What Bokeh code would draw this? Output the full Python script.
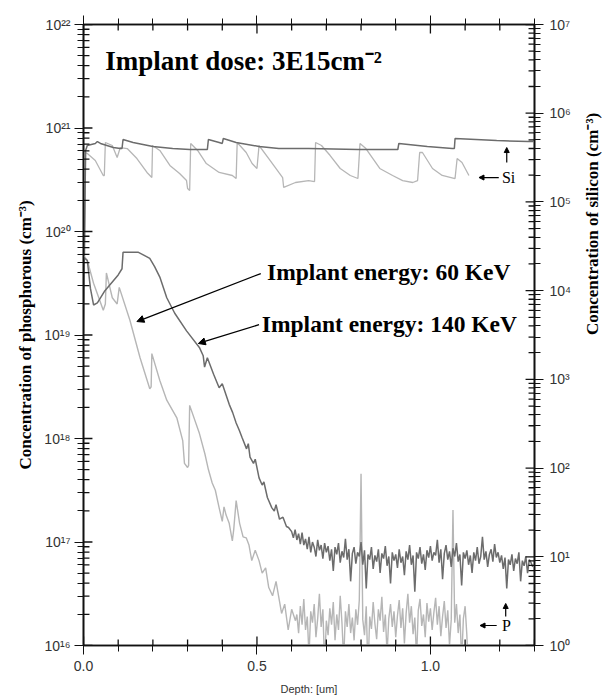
import math
import numpy as np
from bokeh.plotting import figure
from bokeh.models import (Range1d, LogScale, LogAxis, LinearAxis, FixedTicker,
                          CustomJSTickFormatter, Label, Arrow, NormalHead)
from bokeh.embed import file_html
from bokeh.resources import INLINE

# ---------------- data ----------------
# depth in um; concentrations given as log10 values
# Phosphorus, 140 keV implant (dark trace), left axis
p140_head_depth = [0.000, 0.011, 0.020, 0.029, 0.040, 0.060, 0.080, 0.100, 0.111, 0.114,
                   0.130, 0.157, 0.175, 0.191, 0.205, 0.220, 0.240, 0.263, 0.297, 0.334,
                   0.345, 0.349, 0.357, 0.375, 0.391, 0.400, 0.420, 0.430, 0.440, 0.449,
                   0.457, 0.470, 0.475, 0.480, 0.490, 0.495, 0.506, 0.515, 0.520, 0.530,
                   0.543, 0.550, 0.555, 0.565, 0.575, 0.585, 0.591]
p140_head_log = [19.75, 19.72, 19.45, 19.29, 19.31, 19.42, 19.50, 19.58, 19.64, 19.80,
                 19.80, 19.80, 19.77, 19.74, 19.66, 19.56, 19.36, 19.21, 19.04, 18.88,
                 18.80, 18.69, 18.78, 18.62, 18.49, 18.53, 18.33, 18.25, 18.15, 18.08,
                 18.01, 17.90, 17.95, 17.82, 17.76, 17.80, 17.62, 17.55, 17.58, 17.43,
                 17.33, 17.30, 17.36, 17.22, 17.24, 17.15, 17.14]
p140_tail_start = 0.600
p140_tail_step = 0.005
p140_tail_log = [
    17.10, 17.04, 17.12, 17.02, 17.08, 16.98, 17.09, 16.97, 17.03, 16.93,
    17.05, 16.90, 17.00, 16.95, 16.86, 17.02, 16.92, 16.97, 16.84, 16.99,
    16.90, 16.96, 16.82, 16.93, 16.72, 16.95, 16.88, 16.99, 16.80, 16.91,
    16.85, 17.03, 16.83, 16.93, 16.62, 16.89, 16.95, 16.79, 16.90, 16.86,
    17.00, 16.78, 16.92, 16.55, 16.88, 16.83, 16.95, 16.74, 16.87, 16.81,
    16.93, 16.70, 16.89, 16.84, 16.96, 16.77, 16.86, 16.60, 16.90, 16.82,
    16.88, 16.75, 16.93, 16.80, 16.86, 16.68, 16.91, 16.83, 16.97, 16.78,
    16.87, 16.52, 16.90, 16.84, 16.95, 16.79, 16.88, 16.73, 16.92, 16.85,
    16.96, 16.82, 16.90, 16.87, 17.02, 16.80, 16.93, 16.64, 16.89, 16.97,
    16.83, 16.91, 16.76, 16.94, 16.86, 16.99, 16.81, 16.88, 16.58, 16.90,
    16.84, 16.92, 16.78, 16.87, 16.70, 16.90, 16.82, 16.95, 16.79, 16.86,
    17.05, 16.83, 16.91, 16.76, 16.88, 16.93, 16.81, 16.98, 16.85, 16.90,
    16.80, 16.87, 16.74, 16.85, 16.55, 16.83, 16.78, 16.88, 16.72, 16.84,
    16.79, 16.90, 16.62, 16.82, 16.77, 16.86, 16.70, 16.83, 16.80, 16.76]

# Phosphorus, 60 keV implant (light trace), left axis
p60_head_depth = [0.000, 0.011, 0.029, 0.057, 0.063, 0.066, 0.083, 0.097, 0.103, 0.134,
                  0.163, 0.191, 0.195, 0.197, 0.220, 0.240, 0.269, 0.286, 0.291, 0.300,
                  0.303, 0.306, 0.334, 0.350, 0.360, 0.371, 0.380, 0.391, 0.400, 0.405,
                  0.411, 0.420, 0.429, 0.433, 0.440, 0.450, 0.460, 0.469, 0.477, 0.485,
                  0.495, 0.506, 0.515, 0.525, 0.534, 0.545, 0.555, 0.571, 0.580, 0.590,
                  0.600, 0.611]
p60_head_log = [19.77, 19.72, 19.50, 19.24, 19.30, 19.60, 19.36, 19.30, 19.46, 19.14,
                18.78, 18.48, 18.50, 18.82, 18.56, 18.37, 18.20, 17.98, 17.76, 17.72,
                17.74, 18.32, 18.05, 17.85, 17.70, 17.57, 17.50, 17.33, 17.20, 17.34,
                17.26, 17.18, 17.01, 17.12, 17.40, 17.18, 17.05, 17.04, 16.97, 16.82,
                16.92, 16.82, 16.70, 16.75, 16.56, 16.48, 16.62, 16.31, 16.40, 16.15,
                16.35, 16.24]
p60_tail_start = 0.615
p60_tail_step = 0.005
p60_tail_log = [
    16.30, 16.12, 16.38, 16.20, 16.45, 16.15, 16.28, 15.90, 16.33, 16.22,
    16.40, 16.08, 16.26, 16.50, 16.18, 16.35, 15.80, 16.24,
    16.10, 16.36, 16.20, 16.42, 16.05, 16.30, 16.15, 16.48, 16.22, 15.85,
    16.33, 16.18, 16.40, 16.12, 16.27, 16.05, 16.35, 16.20, 16.44, 17.66,
    16.25, 16.10, 16.38, 15.75, 16.28, 16.16, 16.42, 16.21, 16.06, 16.35,
    16.24, 16.47, 16.13, 16.30, 15.92, 16.26, 16.40, 16.18, 16.33, 16.08,
    16.29, 16.44, 16.17, 16.36, 16.02, 16.31, 16.50, 16.22, 16.38, 16.11,
    16.27, 15.88, 16.34, 16.45, 16.19, 16.30, 16.08, 16.41, 16.23, 16.36,
    16.15, 16.32, 16.46, 16.20, 16.38, 16.09, 16.28, 16.43, 16.17, 16.34,
    16.00, 16.25, 17.31, 16.22, 16.40, 16.12, 16.30, 15.85, 16.26, 16.38,
    16.10, 15.70]

# Silicon, 140 keV sample (dark trace), right axis
si140_depth = [0.000, 0.006, 0.011, 0.034, 0.040, 0.049, 0.086, 0.106, 0.111, 0.114,
               0.143, 0.200, 0.257, 0.306, 0.354, 0.357, 0.360, 0.391, 0.400, 0.403,
               0.440, 0.506, 0.563, 0.649, 0.791, 0.906, 0.909, 0.991, 1.063, 1.069,
               1.071, 1.191, 1.283, 1.297]
si140_log = [3.52, 5.58, 5.636, 5.659, 5.681, 5.659, 5.613, 5.602, 5.602, 5.704,
             5.670, 5.625, 5.602, 5.591, 5.591, 5.591, 5.704, 5.670, 5.659, 5.715,
             5.670, 5.625, 5.602, 5.602, 5.591, 5.591, 5.659, 5.625, 5.602, 5.602,
             5.715, 5.692, 5.681, 5.681]

# Silicon, 60 keV sample (light trace), right axis
si60_depth = [0.000, 0.006, 0.011, 0.034, 0.057, 0.060, 0.063, 0.083, 0.097, 0.106,
              0.126, 0.154, 0.183, 0.197, 0.199, 0.220, 0.249, 0.277, 0.297, 0.300,
              0.306, 0.309, 0.329, 0.354, 0.391, 0.429, 0.440, 0.443, 0.469, 0.486,
              0.500, 0.506, 0.534, 0.563, 0.574, 0.577, 0.611, 0.649, 0.666, 0.669,
              0.686, 0.711, 0.740, 0.769, 0.791, 0.797, 0.814, 0.854, 0.891, 0.920,
              0.949, 0.963, 0.969, 0.977, 1.006, 1.034, 1.071, 1.077, 1.091, 1.111]
si60_log = [3.52, 5.557, 5.546, 5.467, 5.298, 5.298, 5.670, 5.636, 5.501, 5.613,
            5.602, 5.489, 5.332, 5.275, 5.636, 5.580, 5.411, 5.320, 5.241, 5.151,
            5.129, 5.659, 5.580, 5.433, 5.332, 5.298, 5.264, 5.670, 5.557, 5.433,
            5.377, 5.636, 5.489, 5.332, 5.275, 5.163, 5.219, 5.241, 5.230, 5.670,
            5.636, 5.523, 5.377, 5.298, 5.264, 5.659, 5.602, 5.377, 5.298, 5.241,
            5.219, 5.241, 5.557, 5.557, 5.377, 5.298, 5.264, 5.489, 5.444, 5.298]

x_major_ticks = [0.0, 0.5, 1.0]
x_minor_ticks = [0.0, 0.1, 0.2, 0.3, 0.4, 0.5, 0.6, 0.7, 0.8, 0.9, 1.0, 1.1, 1.2, 1.3]
p_decades = [16, 17, 18, 19, 20, 21, 22]
si_decades = [0, 1, 2, 3, 4, 5, 6, 7]

title_text = "Implant dose: 3E15cm\u207b\u00b2"
label_60 = "Implant energy: 60 KeV"
label_140 = "Implant energy: 140 KeV"
y_left_label = "Concentration of phosphorous (cm\u207b\u00b3)"
y_right_label = "Concentration of silicon (cm\u207b\u00b3)"
x_label = "Depth: [um]"

# ---------------- build ----------------
p140_depth = p140_head_depth + list(np.round(p140_tail_start + p140_tail_step * np.arange(len(p140_tail_log)), 3))
p140_conc = [10 ** v for v in p140_head_log + p140_tail_log]
p60_depth = p60_head_depth + list(np.round(p60_tail_start + p60_tail_step * np.arange(len(p60_tail_log)), 3))
p60_conc = [10 ** v for v in p60_head_log + p60_tail_log]
si140_conc = [10 ** v for v in si140_log]
si60_conc = [10 ** v for v in si60_log]

DARK = "#6c6c6c"
LIGHT = "#b6b6b6"
AXC = "#111111"
SERIF = "Liberation Serif"
SANS = "Liberation Sans"

W, H = 614, 700
BL, BR, BT, BB = 83, 77, 24, 55
X0, X1 = 0.0, 1.3

p = figure(width=W, height=H, x_range=Range1d(X0, X1),
           y_range=Range1d(10 ** p_decades[0], 10 ** p_decades[-1]),
           y_axis_type="log", output_backend="svg", toolbar_location=None,
           min_border_left=BL, min_border_right=BR, min_border_top=BT, min_border_bottom=BB)
p.grid.visible = False
p.outline_line_color = AXC
p.outline_line_width = 1.6
p.extra_y_ranges = {"si": Range1d(10 ** si_decades[0], 10 ** si_decades[-1])}
p.extra_y_scales = {"si": LogScale()}

sup_fmt = CustomJSTickFormatter(code="""
const sup = {'0':'\u2070','1':'\u00b9','2':'\u00b2','3':'\u00b3','4':'\u2074','5':'\u2075',
             '6':'\u2076','7':'\u2077','8':'\u2078','9':'\u2079','-':'\u207b'};
const e = Math.round(Math.log10(tick));
return '10' + String(e).split('').map(c => sup[c]).join('');
""")
blank_fmt = CustomJSTickFormatter(code="return '';")
one_dec_fmt = CustomJSTickFormatter(code="return tick.toFixed(1);")

MAJ, MIN = 9, 6


def style_axis(ax):
    ax.axis_line_color = AXC
    ax.axis_line_width = 1.6
    ax.major_tick_line_color = AXC
    ax.minor_tick_line_color = AXC
    ax.major_tick_in = 0
    ax.minor_tick_in = 0
    ax.major_tick_out = MAJ
    ax.minor_tick_out = MIN
    ax.major_label_text_font = SANS
    ax.major_label_text_font_size = "14px"
    ax.major_label_text_color = "#333333"
    ax.axis_label_text_color = "black"


left_major = [10 ** d for d in p_decades]
left_minor = [m * 10 ** d for d in p_decades[:-1] for m in range(2, 10)]
right_major = [10 ** d for d in si_decades]
right_minor = [m * 10 ** d for d in si_decades[:-1] for m in range(2, 10)]

yl = p.yaxis[0]
style_axis(yl)
yl.ticker = FixedTicker(ticks=left_major, minor_ticks=left_minor)
yl.formatter = sup_fmt
yl.major_label_standoff = 4
yl.axis_label = y_left_label
yl.axis_label_text_font = SERIF
yl.axis_label_text_font_style = "bold"
yl.axis_label_text_font_size = "17px"
yl.axis_label_standoff = 6

x_ticker = FixedTicker(ticks=x_major_ticks, minor_ticks=x_minor_ticks)
xb = p.xaxis[0]
style_axis(xb)
xb.ticker = x_ticker
xb.formatter = one_dec_fmt
xb.major_label_standoff = 6
xb.axis_label = x_label
xb.axis_label_text_font = SANS
xb.axis_label_text_font_size = "11px"
xb.axis_label_text_font_style = "normal"
xb.axis_label_text_color = "#333333"
xb.axis_label_standoff = 9

xt = LinearAxis(ticker=x_ticker, formatter=blank_fmt)
style_axis(xt)
p.add_layout(xt, "above")

yr = LogAxis(y_range_name="si", ticker=FixedTicker(ticks=right_major, minor_ticks=right_minor),
             formatter=sup_fmt)
style_axis(yr)
yr.major_label_standoff = 6
yr.axis_label = y_right_label
yr.axis_label_text_font = SERIF
yr.axis_label_text_font_style = "bold"
yr.axis_label_text_font_size = "17px"
yr.axis_label_standoff = 18
yr.axis_label_orientation = math.pi / 2
p.add_layout(yr, "right")

# visible tick marks along the frame edges, as head-less arrows in data units
frame_w = W - BL - BR
frame_h = H - BT - BB
px_per_x = frame_w / (X1 - X0)
px_per_dec_left = frame_h / (p_decades[-1] - p_decades[0])
px_per_dec_right = frame_h / (si_decades[-1] - si_decades[0])
y_lo, y_hi = 10 ** p_decades[0], 10 ** p_decades[-1]


def tick(**kw):
    p.add_layout(Arrow(end=None, line_color=AXC, line_width=1.3, **kw))


for t in x_minor_ticks:
    L = MAJ if t in x_major_ticks else MIN
    tick(x_start=t, y_start=y_lo, x_end=t, y_end=y_lo * 10 ** (L / px_per_dec_left))
    tick(x_start=t, y_start=y_hi, x_end=t, y_end=y_hi * 10 ** (-L / px_per_dec_left))
for v in left_major + left_minor:
    L = MAJ if v in left_major else MIN
    tick(x_start=X0, y_start=v, x_end=X0 + L / px_per_x, y_end=v)
for v in right_major + right_minor:
    L = MAJ if v in right_major else MIN
    tick(x_start=X1, y_start=v, x_end=X1 - L / px_per_x, y_end=v, y_range_name="si")

# curves
p.line(si60_depth, si60_conc, line_color=LIGHT, line_width=1.3, y_range_name="si")
p.line(si140_depth, si140_conc, line_color=DARK, line_width=1.5, y_range_name="si")
p.line(p60_depth, p60_conc, line_color=LIGHT, line_width=1.4)
p.line(p140_depth, p140_conc, line_color=DARK, line_width=1.5)

# annotations
p.add_layout(Label(x=0.063, y=10 ** 21.652, text=title_text, text_font=SERIF,
                   text_font_style="bold", text_font_size="27px", text_baseline="middle",
                   text_color="black"))
p.add_layout(Label(x=0.529, y=10 ** 19.604, text=label_60, text_font=SERIF,
                   text_font_style="bold", text_font_size="23.5px", text_baseline="middle",
                   text_color="black"))
p.add_layout(Label(x=0.514, y=10 ** 19.111, text=label_140, text_font=SERIF,
                   text_font_style="bold", text_font_size="23.5px", text_baseline="middle",
                   text_color="black"))


def head(size=7):
    return NormalHead(size=size, fill_color="black", line_color="black", line_width=1)


p.add_layout(Arrow(end=head(), x_start=0.511, y_start=10 ** 19.594, x_end=0.154, y_end=10 ** 19.13,
                   line_color="black", line_width=1.3))
p.add_layout(Arrow(end=head(), x_start=0.506, y_start=10 ** 19.10, x_end=0.331, y_end=10 ** 18.918,
                   line_color="black", line_width=1.3))

# Si markers (right axis scale)
p.add_layout(Arrow(end=head(5), x_start=1.197, y_start=10 ** 5.275, x_end=1.140, y_end=10 ** 5.275,
                   line_color="black", line_width=1.2, y_range_name="si"))
p.add_layout(Arrow(end=head(5), x_start=1.220, y_start=10 ** 5.444, x_end=1.220, y_end=10 ** 5.613,
                   line_color="black", line_width=1.2, y_range_name="si"))
p.add_layout(Label(x=1.206, y=10 ** 5.275, text="Si", text_font=SERIF, text_font_size="16px",
                   text_baseline="middle", text_color="black", y_range_name="si"))

# P markers (left axis scale)
p.add_layout(Arrow(end=head(5), x_start=1.191, y_start=10 ** 16.193, x_end=1.143, y_end=10 ** 16.193,
                   line_color="black", line_width=1.2))
p.add_layout(Arrow(end=head(5), x_start=1.217, y_start=10 ** 16.28, x_end=1.217, y_end=10 ** 16.406,
                   line_color="black", line_width=1.2))
p.add_layout(Label(x=1.206, y=10 ** 16.193, text="P", text_font=SERIF, text_font_size="16px",
                   text_baseline="middle", text_color="black"))

open("out.html", "w").write(file_html(p, INLINE))
